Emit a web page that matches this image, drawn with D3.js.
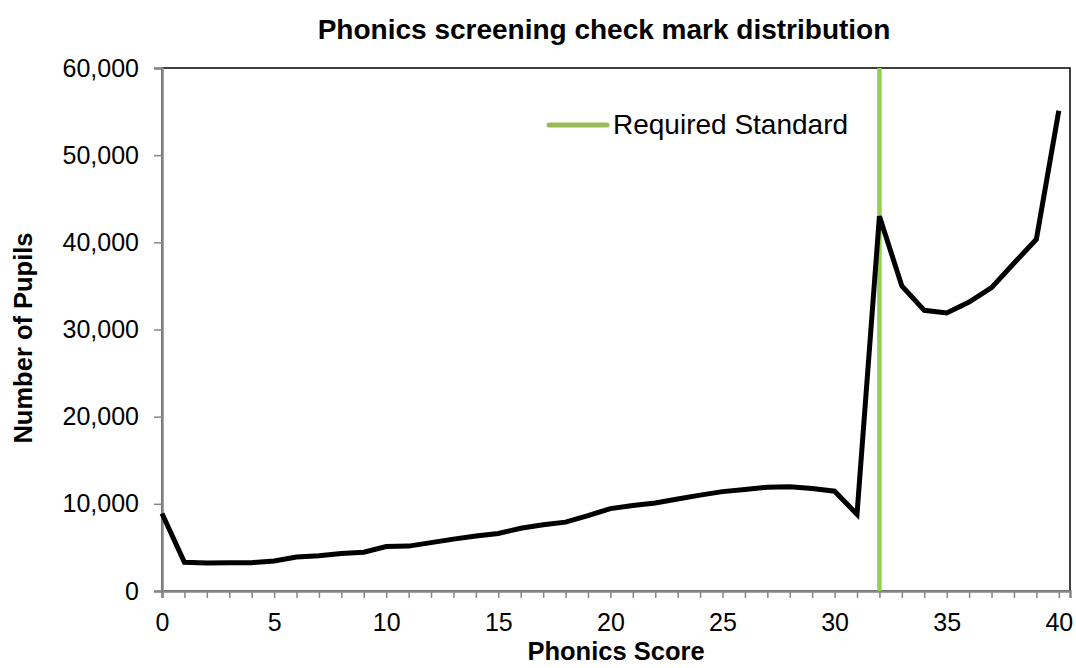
<!DOCTYPE html>
<html>
<head>
<meta charset="utf-8">
<script src="https://cdn.jsdelivr.net/npm/d3@7"></script>
<style>
  body { margin: 0; background: #fff; }
  text { font-family: "Liberation Sans", Arial, sans-serif; }
</style>
</head>
<body>
<div id="chart"></div>
<script>
// data
var scores = d3.range(0, 41);
var pupils = [
	8900, 3300, 3200, 3250, 3250, 3450, 3900, 4050, 4300, 4450,
	5100, 5150, 5550, 5950, 6300, 6600, 7200, 7600, 7900, 8650,
	9450, 9800, 10100, 10550, 11000, 11400, 11650, 11900, 11950, 11750,
	11450, 8800, 43000, 35000, 32200, 31900, 33150, 34800, 37600, 40350,
	55100
];
var pass_mark = 32;
var y_ticks = [0, 10000, 20000, 30000, 40000, 50000, 60000];
var x_ticks = [0, 5, 10, 15, 20, 25, 30, 35, 40];

var width = 1076, height = 668;
var margin = {top: 68, right: 6, bottom: 77, left: 162};

var svg = d3.select("#chart").append("svg")
	.attr("width", width)
	.attr("height", height);

var x = d3.scaleLinear()
	.domain([0, 40.5])
	.range([margin.left, width - margin.right]);
var y = d3.scaleLinear()
	.domain([0, 60000])
	.range([height - margin.bottom, margin.top]);

// plot frame (black top / right)
svg.append("rect")
	.attr("x", x(0))
	.attr("y", y(60000))
	.attr("width", x(40.5) - x(0))
	.attr("height", y(0) - y(60000))
	.attr("fill", "none")
	.attr("stroke", "#000")
	.attr("stroke-width", 1.5);

// x axis
var xAxis = svg.append("g")
	.attr("transform", "translate(0," + y(0) + ")")
	.call(d3.axisBottom(x).tickValues(d3.range(0, 41)).tickSize(7).tickFormat(function(d) {
		return x_ticks.indexOf(d) > -1 ? d : "";
	}));
xAxis.select(".domain").attr("stroke", "#868686").attr("stroke-width", 2.5);
xAxis.selectAll(".tick line").attr("stroke", "#868686").attr("stroke-width", 1.5);
xAxis.selectAll(".tick text")
	.attr("font-size", 25)
	.attr("font-family", "Liberation Sans, Arial, sans-serif")
	.attr("fill", "#000")
	.attr("dy", "0.71em")
	.attr("y", 22);

// y axis
var yAxis = svg.append("g")
	.attr("transform", "translate(" + x(0) + ",0)")
	.call(d3.axisLeft(y).tickValues(y_ticks).tickSize(8).tickFormat(d3.format(",")));
yAxis.select(".domain").attr("stroke", "#868686").attr("stroke-width", 2.5);
yAxis.selectAll(".tick line").attr("stroke", "#868686").attr("stroke-width", 1.5);
yAxis.selectAll(".tick text")
	.attr("font-size", 25)
	.attr("font-family", "Liberation Sans, Arial, sans-serif")
	.attr("fill", "#000")
	.attr("x", -23);

// required standard line
svg.append("line")
	.attr("x1", x(pass_mark)).attr("x2", x(pass_mark))
	.attr("y1", y(60000)).attr("y2", y(0))
	.attr("stroke", "#92d050")
	.attr("stroke-width", 4.5);

// distribution
var line = d3.line()
	.x(function(d, i) { return x(scores[i]); })
	.y(function(d) { return y(d); });

svg.append("path")
	.datum(pupils)
	.attr("d", line)
	.attr("fill", "none")
	.attr("stroke", "#000")
	.attr("stroke-width", 5)
	.attr("stroke-linejoin", "miter");

// legend
svg.append("line")
	.attr("x1", 549).attr("x2", 607)
	.attr("y1", 125).attr("y2", 125)
	.attr("stroke", "#9bbb59")
	.attr("stroke-width", 5)
	.attr("stroke-linecap", "round");
svg.append("text")
	.attr("x", 613).attr("y", 134)
	.attr("font-size", 28)
	.text("Required Standard");

// titles
svg.append("text")
	.attr("x", 604).attr("y", 39)
	.attr("text-anchor", "middle")
	.attr("font-size", 28)
	.attr("font-weight", "bold")
	.text("Phonics screening check mark distribution");

svg.append("text")
	.attr("x", 616).attr("y", 660)
	.attr("text-anchor", "middle")
	.attr("font-size", 25.5)
	.attr("font-weight", "bold")
	.text("Phonics Score");

svg.append("text")
	.attr("transform", "translate(32,338) rotate(-90)")
	.attr("text-anchor", "middle")
	.attr("font-size", 25.5)
	.attr("font-weight", "bold")
	.text("Number of Pupils");
</script>
</body>
</html>
